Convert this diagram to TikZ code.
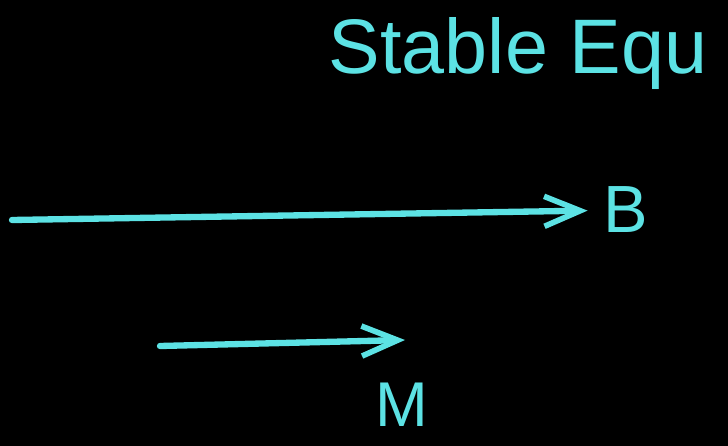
\documentclass[tikz,border=0pt]{standalone}
\usepackage{fontspec}
\setmainfont{Liberation Sans}
\usetikzlibrary{arrows.meta}
\definecolor{chalk}{RGB}{92,226,228}
\begin{document}
\begin{tikzpicture}[
    x=0.02cm, y=-0.02cm,
    hand/.style={text=chalk, inner sep=2pt},
    vec/.style={draw=chalk, line width=3.6pt, line cap=round,
      -{Straight Barb[length=0.72cm, width=0.6cm, line width=3.2pt]}}
]
  % ===== fondo =====
  \fill[black] (0,0) rectangle (728,446);
  \useasboundingbox (0,0) rectangle (728,446);

  % ===== titulo =====
  \node[hand, font=\fontsize{44}{44}\selectfont] (title) at (518,54) {Stable Equ};

  % ===== vectores =====
  \node[hand, font=\fontsize{38}{38}\selectfont, inner sep=9pt] (B) at (626,210) {B};
  \coordinate (bstart) at (12,220);
  \draw[vec] (bstart) -- (B);

  \coordinate (mstart) at (160,346);
  \coordinate (mend) at (405,340);
  \draw[vec] (mstart) -- (mend);
  \node[hand, font=\fontsize{36}{36}\selectfont] (M) at (402,405) {M};
\end{tikzpicture}
\end{document}
